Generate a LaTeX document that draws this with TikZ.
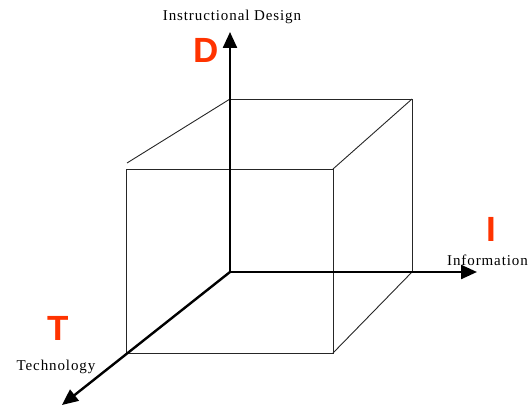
\documentclass[tikz,border=0pt]{standalone}
\usepackage{fontspec}
\usetikzlibrary{arrows.meta}
\setmainfont{Liberation Serif}
\newfontfamily\lsans{Liberation Sans}
\newfontfamily\lblfont[LetterSpace=6]{Liberation Serif}
\definecolor{letterred}{RGB}{255,51,0}
\begin{document}
\begin{tikzpicture}[x=1pt,y=-1pt,
  axis/.style={line width=2.4pt,-{Triangle[length=16pt,width=14pt]}},
  edge/.style={line width=0.9pt,draw=black!85},
  axlabel/.style={font=\lblfont\fontsize{15}{15}\selectfont,inner sep=0pt},
  bigletter/.style={font=\lsans\bfseries\fontsize{35}{35}\selectfont,text=letterred,inner sep=0pt}]
\useasboundingbox (0,0) rectangle (530,406);
% cube coordinates
\coordinate (O) at (230,272);
\coordinate (BTL) at (230,99);
\coordinate (BTR) at (412,99);
\coordinate (BBR) at (412,272);
\coordinate (FTL) at (126,169);
\coordinate (FTR) at (333,169);
\coordinate (FBL) at (126,353);
\coordinate (FBR) at (333,353);
\coordinate (DG) at (127,163);
\coordinate (Dtip) at (230,32);
\coordinate (Itip) at (477,272);
\coordinate (Ttip) at (62,405);
% cube edges
\draw[edge] (BTL) -- (BTR) -- (BBR);
\draw[edge] (DG) -- (BTL);
\draw[edge] (FTR) -- (BTR);
\draw[edge] (FBR) -- (BBR);
\draw[edge] (FBL) -- (FTL) -- (FTR) -- (FBR) -- (FBL);
% axes
\draw[axis] (O) -- (Dtip);
\draw[axis] (O) -- (Itip);
\draw[axis] (O) -- (Ttip);
% labels
\node[axlabel] (lD) at (232,17) {Instructional Design};
\node[axlabel,anchor=west] (lI) at (447,260) {Information};
\node[axlabel] (lT) at (56,367) {Technology};
\node[bigletter] (D) at (206,50) {D};
\node[bigletter] (I) at (491,229) {I};
\node[bigletter] (T) at (58,328) {T};
\end{tikzpicture}
\end{document}
